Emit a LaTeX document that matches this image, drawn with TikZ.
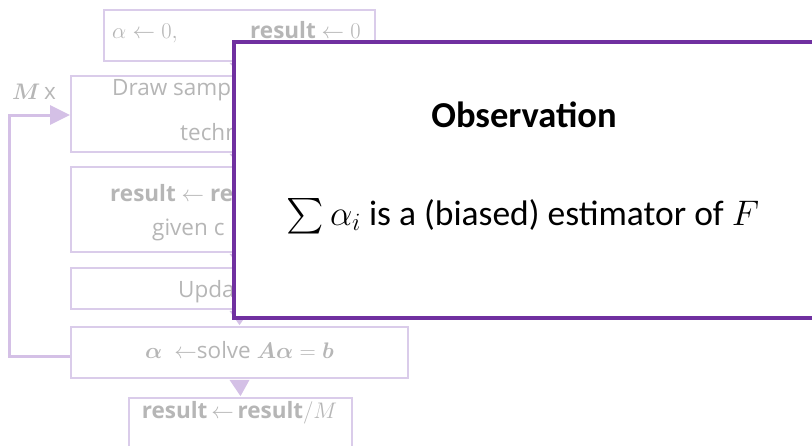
\RequirePackage{fix-cm}
\documentclass[tikz,border=0pt]{standalone}
\usepackage{amsmath,amssymb}
\usepackage{fontspec}
\newfontfamily\calib{Carlito}
\newfontfamily\segoe{Open Sans}
\usetikzlibrary{arrows.meta}
\definecolor{faint}{RGB}{218,204,234}
\definecolor{fainttext}{RGB}{182,182,182}
\definecolor{arrowfill}{RGB}{212,192,230}
\definecolor{obspurple}{RGB}{112,48,160}
\tikzset{
  fbox/.style={draw=faint, line width=1.8pt, fill=white, inner sep=0pt},
  ftext/.style={text=fainttext, font=\segoe\fontsize{22.5}{26}\selectfont, inner sep=0pt},
  farrow/.style={fill=arrowfill, draw=none},
  loopline/.style={draw=arrowfill, line width=3pt, -{Triangle[length=20pt,width=19pt]}},
  obsbox/.style={draw=obspurple, line width=4.5pt, fill=white, inner sep=0pt},
}
\begin{document}
\begin{tikzpicture}[x=1pt,y=-1pt]
\useasboundingbox (0,0) rectangle (812,445);
\clip (0,0) rectangle (812,445);
% boxes
\node[fbox, minimum width=271, minimum height=51] (b1) at (239.5,35.5) {};
\node[fbox, minimum width=337, minimum height=76] (b2) at (239.5,114) {};
\node[fbox, minimum width=337, minimum height=85] (b3) at (239.5,209.5) {};
\node[fbox, minimum width=337, minimum height=41] (b4) at (239.5,288.5) {};
\node[fbox, minimum width=337, minimum height=51] (b5) at (239.5,352.5) {};
\node[fbox, minimum width=223, minimum height=62] (b6) at (240.5,429) {};
% down arrows
\foreach \a/\b in {b1/b2,b2/b3,b3/b4,b4/b5,b5/b6}{
  \fill[farrow] ([xshift=-10pt,yshift=-1pt]\a.south) -- ([xshift=10pt,yshift=-1pt]\a.south) -- ([yshift=1pt]\b.north) -- cycle;
}
% loop
\draw[loopline] ([yshift=-4pt]b5.west) -- ++(-61,0) |- ([yshift=-1pt]b2.west);
\node[ftext, anchor=base] (mx) at (34,99) {$\boldsymbol{M}$\,x};
% texts
\node[ftext, anchor=base west] (t1a) at (112,38) {$\alpha \leftarrow 0,$};
\node[ftext, anchor=base west] (t1b) at (250,38) {\textbf{result} $\leftarrow 0$};
\node[ftext, anchor=base west] (t2a) at (112,95) {Draw samp};
\node[ftext, anchor=base west] (t2b) at (180,140) {techn};
\node[ftext, anchor=base west] (t3a) at (110,201) {\textbf{result} $\leftarrow$ \textbf{re}};
\node[ftext, anchor=base west] (t3b) at (152,235) {given c};
\node[ftext, anchor=base west] (t4) at (178,297) {Upda};
\node[ftext, anchor=base] (t5) at (239.5,358) {$\boldsymbol{\alpha}\ \leftarrow$solve $\boldsymbol{A\alpha} = \boldsymbol{b}$};
\node[ftext, anchor=base] (t6) at (239.5,418) {\textbf{result}$\,\leftarrow\,$\textbf{result}$/M$};
% overlay
\node[obsbox, minimum width=581, minimum height=276] (obs) at (524.5,180) {};
\node[anchor=base, inner sep=0pt, font=\calib\bfseries\fontsize{36.5}{40}\selectfont] (title) at (524,127) {Observation};
\node[anchor=base, inner sep=0pt, font=\calib\fontsize{35.5}{40}\selectfont] (body) at (523,225) {$\sum \alpha_i$ is a (biased) estimator of $F$};
\end{tikzpicture}
\end{document}
